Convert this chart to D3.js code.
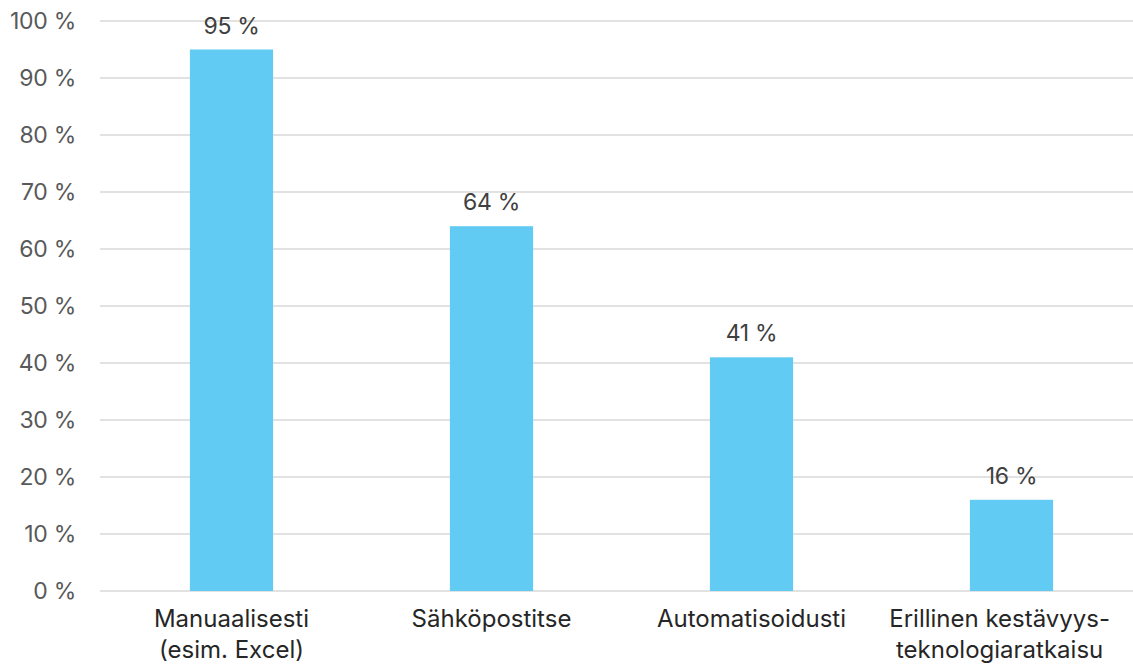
<!DOCTYPE html>
<html><head><meta charset="utf-8">
<script src="https://cdn.jsdelivr.net/npm/d3@7"></script>
<style>body{margin:0;background:#fff}svg{display:block}</style>
</head><body><svg id="c" width="1133" height="664"></svg>
<script>
const categories = [["Manuaalisesti","(esim. Excel)"],["Sähköpostitse"],["Automatisoidusti"],["Erillinen kestävyys-","teknologiaratkaisu"]];
const values = [95, 64, 41, 16];
const yTicks = [0,10,20,30,40,50,60,70,80,90,100];

const svg = d3.select("#c");
const W = 1133, H = 664;
const x = d3.scaleBand().domain(d3.range(categories.length)).range([101.5, 1141.5]).paddingInner(0.68).paddingOuter(0.34);
const y = d3.scaleLinear().domain([0,100]).range([591, 21]);
const font = "Inter, 'Liberation Sans', sans-serif";

// gridlines
svg.append("g").selectAll("line").data(yTicks).join("line")
  .attr("x1", 100).attr("x2", W).attr("y1", d=>y(d)).attr("y2", d=>y(d))
  .attr("stroke", "#d9d9d9").attr("stroke-width", 1.3);

// y axis labels
const yAxis = d3.axisLeft(y).tickValues(yTicks).tickSize(0).tickPadding(0).tickFormat(d=>d+" %");
const ya = svg.append("g").attr("transform","translate(76,0)").call(yAxis);
ya.select(".domain").remove();
ya.selectAll("text").attr("font-family", font).attr("font-size", 23).attr("fill","#595959").attr("letter-spacing", -0.3);

// bars
svg.append("g").selectAll("rect").data(values).join("rect")
  .attr("x",(d,i)=>x(i)).attr("width", x.bandwidth())
  .attr("y", d=>y(d)).attr("height", d=>y(0)-y(d))
  .attr("fill","#61CBF3");

// data labels
svg.append("g").selectAll("text").data(values).join("text")
  .attr("x",(d,i)=>x(i)+x.bandwidth()/2).attr("y", d=>y(d)-16)
  .attr("text-anchor","middle").attr("font-family",font).attr("font-size",23).attr("fill","#404040").attr("letter-spacing", -0.3)
  .text(d=>d+" %");

// category labels
const cg = svg.append("g");
categories.forEach((lines,i)=>{
  const t = cg.append("text").attr("text-anchor","middle").attr("font-family",font)
    .attr("font-size",24).attr("fill","#262626");
  lines.forEach((l,j)=>{
    t.append("tspan").attr("x", x(i)+x.bandwidth()/2).attr("y", 627 + j*31).text(l);
  });
  const bb = t.node().getBBox();
  const maxR = 1110;
  if (bb.x + bb.width > maxR) t.attr("transform", `translate(${maxR-(bb.x+bb.width)},0)`);
});
</script></body></html>
